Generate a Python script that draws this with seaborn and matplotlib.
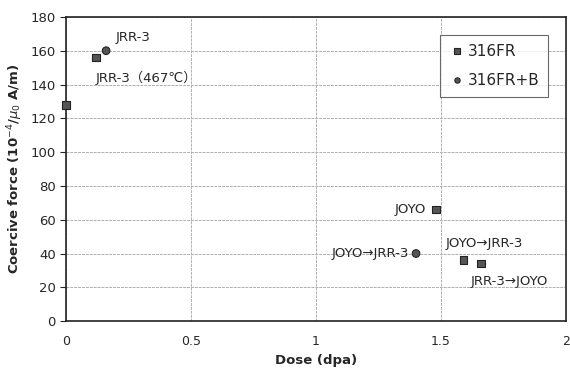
import numpy as np
import pandas as pd
import matplotlib
matplotlib.use("Agg")
import matplotlib.pyplot as plt
import seaborn as sns

# 316FR (squares)
fr_dose = [0.0, 0.12, 1.48, 1.59, 1.66]
fr_hc = [128, 156, 66, 36, 34]
# 316FR+B (circles)
frb_dose = [0.16, 1.40]
frb_hc = [160, 40]

series_names = ["316FR", "316FR+B"]

df = pd.DataFrame({
    "dose": fr_dose + frb_dose,
    "hc": fr_hc + frb_hc,
    "mat": [series_names[0]] * len(fr_dose) + [series_names[1]] * len(frb_dose),
})

sns.set_style("white")
plt.rcParams['font.family'] = ['DejaVu Sans', 'Noto Sans CJK JP']

fig = plt.figure(figsize=(5.7, 3.76), dpi=100)
ax = fig.add_axes([0.116, 0.146, 0.877, 0.809])

sns.scatterplot(
    data=df, x="dose", y="hc", hue="mat", style="mat",
    markers={"316FR": "s", "316FR+B": "o"},
    palette={"316FR": "#555555", "316FR+B": "#555555"},
    s=30, edgecolor="#222222", linewidth=0.8, ax=ax, zorder=3, clip_on=False,
)

ax.set_xlim(0, 2)
ax.set_ylim(0, 180)
ax.set_xticks([0, 0.5, 1, 1.5, 2])
ax.set_xticklabels(["0", "0.5", "1", "1.5", "2"])
ax.set_yticks(range(0, 181, 20))
ax.grid(True, color="#b0b0b0", linewidth=0.7, linestyle=(0, (3, 1)))
ax.tick_params(axis="x", pad=10, labelsize=9, length=0)
ax.tick_params(axis="y", labelsize=9.5, length=4, direction="out", left=True)
for sp in ax.spines.values():
    sp.set_color("#222222")
    sp.set_linewidth(1.2)

ax.set_xlabel("Dose (dpa)", fontsize=9.5, fontweight="bold", labelpad=4)
ax.set_ylabel(r"Coercive force (10$^{-4}$/$\mu_0$ A/m)", fontsize=9.5, fontweight="bold")

# annotations
ax.text(0.20, 164, "JRR-3", fontsize=9.5, va="bottom", ha="left")
ax.text(0.12, 148, "JRR-3（467℃）", fontsize=9.5, va="top", ha="left")
ax.text(1.44, 66, "JOYO", fontsize=9.5, va="center", ha="right")
ax.text(1.37, 40, "JOYO→JRR-3", fontsize=9.5, va="center", ha="right")
ax.text(1.52, 42, "JOYO→JRR-3", fontsize=9.5, va="bottom", ha="left")
ax.text(1.62, 27, "JRR-3→JOYO", fontsize=9.5, va="top", ha="left")

leg = ax.legend(loc="upper right", bbox_to_anchor=(0.98, 0.965), fontsize=11,
                frameon=True, fancybox=False, edgecolor="#444444",
                handletextpad=0.2, labelspacing=0.9, borderpad=0.6,
                markerscale=0.7, handlelength=1.0)
leg.get_frame().set_linewidth(0.8)

fig.savefig("out.png", dpi=100)
